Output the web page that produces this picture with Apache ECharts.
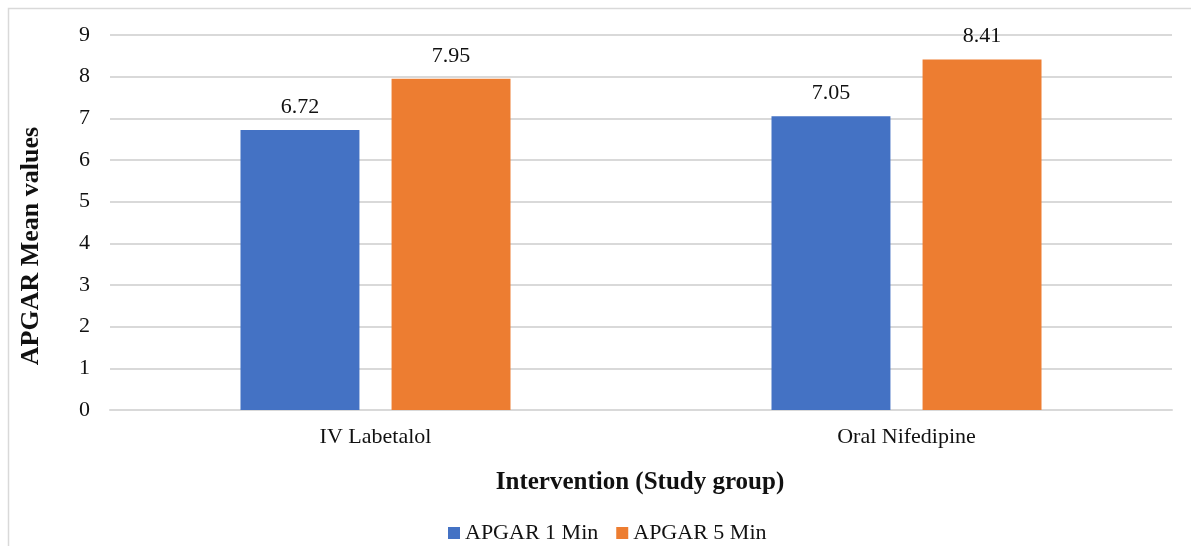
<!DOCTYPE html>
<html>
<head>
<meta charset="utf-8">
<style>
  html, body { margin: 0; padding: 0; background: #fff; }
  #chart { width: 1191px; height: 546px; }
</style>
<script src="https://cdn.jsdelivr.net/npm/echarts@6/dist/echarts.min.js"></script>
</head>
<body>
<div id="chart"></div>
<script>
// Study groups and mean APGAR scores
const categories = ['IV Labetalol', 'Oral Nifedipine'];
const apgar1Min = [6.72, 7.05];
const apgar5Min = [7.95, 8.41];
const seriesNames = ['APGAR 1 Min', 'APGAR 5 Min'];

const FONT = '"Liberation Serif", "Times New Roman", serif';

const chart = echarts.init(document.getElementById('chart'), null, { renderer: 'canvas' });

const labelStyle = {
  show: true,
  position: 'top',
  distance: 12,
  color: '#111',
  fontFamily: FONT,
  fontSize: 22,
  formatter: p => p.value.toFixed(2)
};

chart.setOption({
  animation: false,
  backgroundColor: '#fff',
  textStyle: { fontFamily: FONT },
  grid: { left: 110, right: 19, top: 35, bottom: 136, containLabel: false },
  legend: {
    top: 522,
    left: 448,
    padding: 0,
    itemWidth: 12,
    itemHeight: 12,
    itemGap: 18,
    icon: 'rect',
    textStyle: { fontFamily: FONT, fontSize: 22, color: '#111' },
    data: seriesNames
  },
  xAxis: {
    type: 'category',
    data: categories,
    axisLine: { show: true, lineStyle: { color: '#d9d9d9', width: 2 } },
    axisTick: { show: false },
    axisLabel: { color: '#111', fontFamily: FONT, fontSize: 22, margin: 16 }
  },
  yAxis: {
    type: 'value',
    min: 0,
    max: 9,
    interval: 1,
    axisLine: { show: false },
    axisTick: { show: false },
    splitLine: { lineStyle: { color: '#d9d9d9', width: 2 } },
    axisLabel: { color: '#111', fontFamily: FONT, fontSize: 22, margin: 20 }
  },
  graphic: [
    {
      type: 'rect',
      shape: { x: 8.5, y: 8.5, width: 1200, height: 560 },
      style: { fill: 'none', stroke: '#d9d9d9', lineWidth: 1.5 },
      silent: true
    },
    {
      type: 'text',
      x: 31, y: 246,
      rotation: Math.PI / 2,
      style: {
        text: 'APGAR Mean values',
        fill: '#111',
        font: 'bold 26px ' + FONT,
        textAlign: 'center',
        textVerticalAlign: 'middle'
      }
    },
    {
      type: 'text',
      x: 640, y: 483,
      style: {
        text: 'Intervention (Study group)',
        fill: '#111',
        font: 'bold 25px ' + FONT,
        textAlign: 'center',
        textVerticalAlign: 'middle'
      }
    }
  ],
  series: [
    {
      name: seriesNames[0],
      type: 'bar',
      data: apgar1Min,
      barWidth: '22.4%',
      barGap: '27%',
      itemStyle: { color: '#4472c4' },
      label: labelStyle
    },
    {
      name: seriesNames[1],
      type: 'bar',
      data: apgar5Min,
      barWidth: '22.4%',
      barGap: '27%',
      itemStyle: { color: '#ed7d31' },
      label: labelStyle
    }
  ]
});
</script>
</body>
</html>
